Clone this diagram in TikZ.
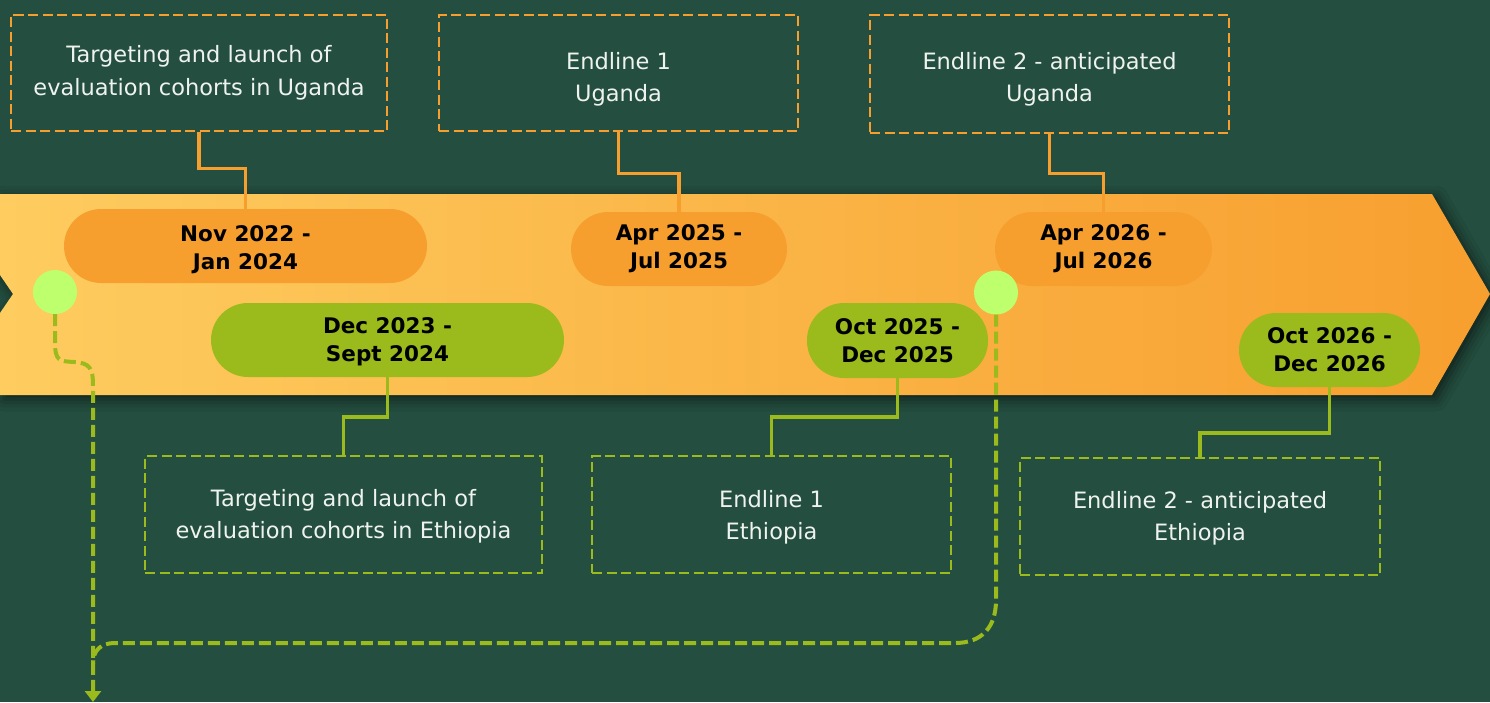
\documentclass[tikz,border=0pt]{standalone}
\usepackage{fontspec}
\setmainfont{DejaVu Sans}
\usetikzlibrary{arrows.meta,shadows.blur}
\definecolor{bg}{HTML}{244E3F}
\definecolor{orangeA}{HTML}{F79F2E}
\definecolor{bandL}{HTML}{FECC5F}
\definecolor{bandR}{HTML}{F79F2F}
\definecolor{greenA}{HTML}{9ABB1B}
\definecolor{lime}{HTML}{BEFF6E}
\definecolor{txt}{HTML}{EEF3EF}
\tikzset{
 infobox/.style={draw, line width=2.5pt, dash pattern=on 10pt off 4.5pt, fill=bg, text=txt, align=center, inner sep=0pt, text height=48.9pt, text depth=0pt, font=\fontsize{22.5}{32.5}\selectfont},
 topbox/.style={infobox, draw=orangeA},
 botbox/.style={infobox, draw=greenA},
 pill/.style={rounded corners=37pt, minimum height=74pt, inner sep=0pt, align=center, text=black, text height=43.7pt, text depth=0pt, font=\bfseries\fontsize{21.5}{28}\selectfont},
 opill/.style={pill, fill=orangeA},
 gpill/.style={pill, fill=greenA},
 olink/.style={draw=orangeA, line width=3.5pt},
 glink/.style={draw=greenA, line width=3.5pt},
 dot/.style={circle, fill=lime, minimum size=44pt, inner sep=0pt},
 flow/.style={draw=greenA, line width=4pt, dash pattern=on 12pt off 5pt},
}
\begin{document}
\begin{tikzpicture}[x=1pt,y=-1pt]
\fill[bg] (0,0) rectangle (1490,702);
\useasboundingbox (0,0) rectangle (1490,702);
% timeline band
\shade[blur shadow={shadow xshift=4pt, shadow yshift=-4pt, shadow blur radius=12pt, shadow opacity=60}, left color=bandL, right color=bandR]
  (0,194) -- (1432,194) -- (1490,294) -- (1432,395) -- (0,395) -- (0,313) -- (13,294) -- (0,275) -- cycle;
% boxes
\node[topbox, minimum width=376pt, minimum height=116pt, text depth=4pt] (b1) at (199,73) {Targeting and launch of\\evaluation cohorts in Uganda};
\node[topbox, minimum width=359pt, minimum height=116pt, text height=57.9pt] (b2) at (618.5,73) {Endline 1\\Uganda};
\node[topbox, minimum width=359pt, minimum height=118pt, text height=55.9pt] (b3) at (1049.5,74) {Endline 2 - anticipated\\Uganda};
\node[botbox, minimum width=397pt, minimum height=117pt] (b4) at (343.5,514.5) {Targeting and launch of\\evaluation cohorts in Ethiopia};
\node[botbox, minimum width=359pt, minimum height=117pt, text height=50.9pt] (b5) at (771.5,514.5) {Endline 1\\Ethiopia};
\node[botbox, minimum width=360pt, minimum height=117pt] (b6) at (1200,516.5) {Endline 2 - anticipated\\Ethiopia};
% pills
\node[opill, minimum width=363pt, text height=46.7pt] (p1) at (245.5,246) {Nov 2022 -\\Jan 2024};
\node[opill, minimum width=216pt, text depth=4pt] (p2) at (679,249) {Apr 2025 -\\Jul 2025};
\node[opill, minimum width=217pt, text depth=4pt] (p3) at (1103.5,249) {Apr 2026 -\\Jul 2026};
\node[gpill, minimum width=353pt] (p4) at (387.5,340) {Dec 2023 -\\Sept 2024};
\node[gpill, minimum width=181pt, minimum height=75pt] (p5) at (897.5,340.5) {Oct 2025 -\\Dec 2025};
\node[gpill, minimum width=181pt] (p6) at (1329.5,350) {Oct 2026 -\\Dec 2026};
% links
\draw[olink] (b1.south) -- ++(0,36) -| (p1.north);
\draw[olink] (b2.south) -- ++(0,41) -| (p2.north);
\draw[olink] (b3.south) -- ++(0,39) -| (p3.north);
\draw[glink] (p4.south) -- ++(0,40) -| (b4.north);
\draw[glink] (p5.south) -- ++(0,39) -| (b5.north);
\draw[glink] (p6.south) -- ++(0,46) -| (b6.north);
% dots
\node[dot] (c1) at (55,292) {};
\node[dot] (c2) at (996,292.5) {};
\coordinate (end) at (93,702);
\coordinate (join) at (93,664);
% flow
\draw[flow, -{Triangle[width=16pt,length=11pt]}] (c1.south) -- (55,342) .. controls (55,362) and (60,361) .. (74,362) .. controls (90,363) and (93,368) .. (93,386) -- (end);
\draw[flow] (c2.south) -- (996,600) .. controls (996,627) and (982,643) .. (955,643) -- (115,643) .. controls (101,643) and (93,650) .. (join);
\end{tikzpicture}
\end{document}
